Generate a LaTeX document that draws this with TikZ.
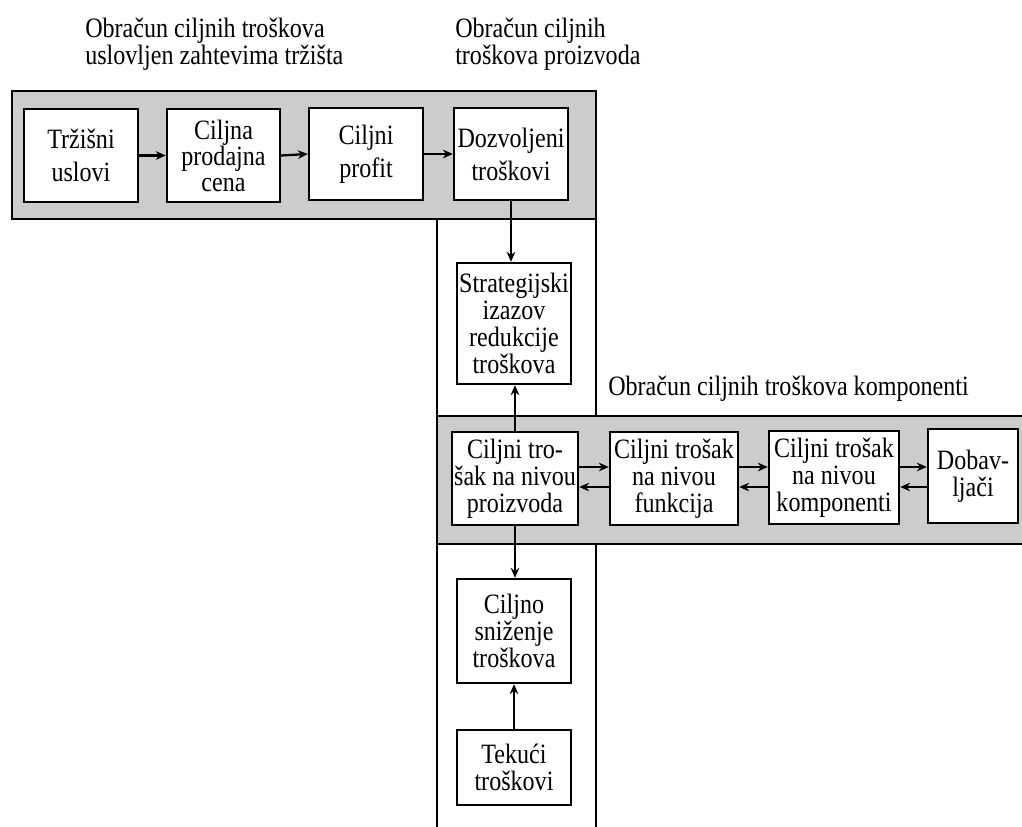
\documentclass[tikz,border=0pt]{standalone}
\usepackage{fontspec}
\setmainfont{Liberation Serif}[FakeStretch=0.86]
\usetikzlibrary{arrows.meta}
\definecolor{bandgray}{gray}{0.8}
\begin{document}
\begin{tikzpicture}[x=0.75pt,y=-0.75pt,
  txt/.style={font=\fontsize{21pt}{#1}\selectfont},
  txt/.default=20.25pt,
  box/.style 2 args={draw=black,fill=white,line width=1.8pt,inner sep=0pt,
    align=center,minimum width=#1,minimum height=#2},
  band/.style={draw=black,fill=bandgray,line width=1.8pt},
  col/.style={draw=black,line width=1.5pt},
  title/.style={inner sep=0pt,align=left,txt=18.75pt},
  arr/.style={line width=1.7pt,-{Stealth[length=7.5pt,width=6.5pt]}}]
\useasboundingbox (0,0) rectangle (1022,827);
\fill[white] (0,0) rectangle (1022,827);

% grey bands and the vertical column between them
\draw[band] (12,91) rectangle (596,219);
\draw[band] (437,416) rectangle (1040,544);
\draw[col] (437,219) -- (437,416) (596,219) -- (596,416);
\draw[col] (437,544) -- (437,835) (596,544) -- (596,835);

% headings
\node[title,anchor=north west] (t1) at (85,18) {Obračun ciljnih troškova\\uslovljen zahtevima tržišta};
\node[title,anchor=north west] (t2) at (455,18) {Obračun ciljnih\\troškova proizvoda};
\node[txt,inner sep=0pt,anchor=base west] (t3) at (608,396) {Obračun ciljnih troškova komponenti};

% market-driven row
\node[box={85.5pt}{69.75pt},txt=24.75pt] (trz) at (81,155.5) {Tržišni\\uslovi};
\node[box={84.75pt}{69.75pt},txt=19pt] (cena) at (223.5,155.5) {Ciljna\\prodajna\\cena};
\node[box={85.5pt}{69pt},txt=24.75pt] (profit) at (366,154) {Ciljni\\profit};
\node[box={85.5pt}{69pt},txt=24.75pt] (dozv) at (511,154) {Dozvoljeni\\troškovi};

% product column
\node[box={85.5pt}{90.75pt},txt] (strat) at (514,323.5) {Strategijski\\izazov\\redukcije\\troškova};
\node[box={85.5pt}{78pt},txt] (sniz) at (514,631) {Ciljno\\sniženje\\troškova};
\node[box={85.5pt}{56.25pt},txt] (tek) at (514,767.5) {Tekući\\troškovi};

% component row
\node[box={94.5pt}{69.75pt},txt] (proiz) at (515,478.5) {Ciljni tro-\\šak na nivou\\proizvoda};
\node[box={96pt}{69.75pt},txt] (funk) at (674,478.5) {Ciljni trošak\\na nivou\\funkcija};
\node[box={97.5pt}{69.75pt},txt] (komp) at (834,477.5) {Ciljni trošak\\na nivou\\komponenti};
\node[box={67.5pt}{70.5pt},txt] (dob) at (973,476) {Dobav-\\ljači};

% connectors
\draw[arr] (trz.east) -- (cena.west);
\draw[arr] (cena.east) -- (profit.west);
\draw[arr] (profit.east) -- (dozv.west);
\draw[arr] (dozv.south) -- (dozv.south |- strat.north);
\draw[arr] (proiz.north) -- (proiz.north |- strat.south);
\draw[arr] (proiz.south) -- (proiz.south |- sniz.north);
\draw[arr] (tek.north) -- (sniz.south);

\draw[arr] (proiz.east |- 0,467) -- (funk.west |- 0,467);
\draw[arr] (funk.west |- 0,487) -- (proiz.east |- 0,487);
\draw[arr] (funk.east |- 0,467) -- (komp.west |- 0,467);
\draw[arr] (komp.west |- 0,487) -- (funk.east |- 0,487);
\draw[arr] (komp.east |- 0,467) -- (dob.west |- 0,467);
\draw[arr] (dob.west |- 0,487) -- (komp.east |- 0,487);
\end{tikzpicture}
\end{document}
